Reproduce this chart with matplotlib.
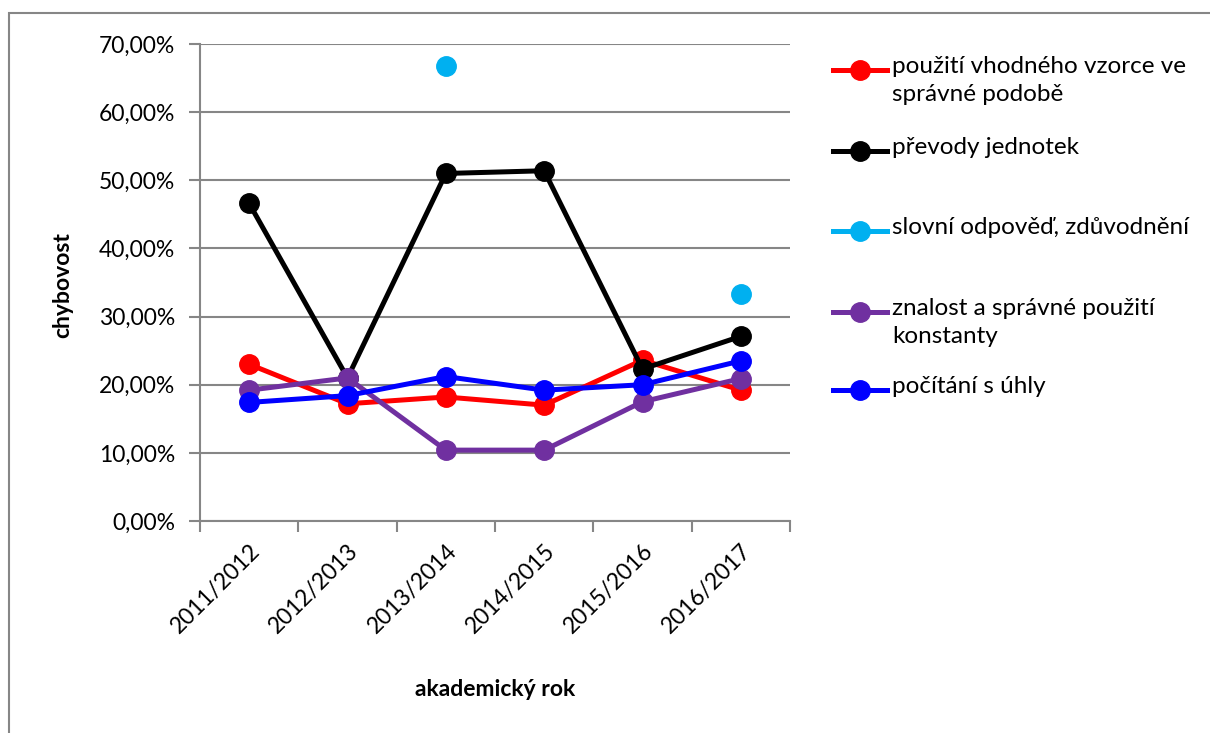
import numpy as np
import matplotlib.pyplot as plt
from matplotlib.lines import Line2D
from matplotlib.patches import Rectangle

plt.rcParams['font.family'] = ['Lato', 'DejaVu Sans']

years = ["2011/2012", "2012/2013", "2013/2014", "2014/2015", "2015/2016", "2016/2017"]

# chybovost v procentech
vzorec = [23.0, 17.2, 18.2, 17.0, 23.6, 19.2]
prevody = [46.6, 21.0, 51.0, 51.4, 22.3, 27.1]
slovni = [np.nan, np.nan, 66.8, np.nan, np.nan, 33.3]
konstanty = [19.2, 21.0, 10.4, 10.4, 17.5, 20.9]
uhly = [17.4, 18.4, 21.2, 19.2, 20.0, 23.5]

series = [
    ("použití vhodného vzorce ve\nsprávné podobě", vzorec, "#ff0000"),
    ("převody jednotek", prevody, "#000000"),
    ("slovní odpověď, zdůvodnění", slovni, "#00b0f0"),
    ("znalost a správné použití\nkonstanty", konstanty, "#7030a0"),
    ("počítání s úhly", uhly, "#0000ff"),
]

W, H = 1210, 733
fig = plt.figure(figsize=(W / 100, H / 100), dpi=100)
fig.patches.append(Rectangle((9 / W, -0.1), 1.2, 1 - 13 / H + 0.1, transform=fig.transFigure,
                             fill=False, edgecolor="#868686", linewidth=1.5))

ax = fig.add_axes([200 / W, 1 - 521 / H, 590 / W, 477 / H])
x = np.arange(len(years))
for name, vals, col in series:
    ax.plot(x, vals, color=col, linewidth=3.6, marker="o", markersize=14, zorder=3)

ax.set_xlim(-0.5, len(years) - 0.5)
ax.set_ylim(0, 70)
ax.set_yticks(np.arange(0, 71, 10))
ax.set_yticklabels(["%d,00%%" % v for v in range(0, 71, 10)], fontsize=16.5)
ax.grid(axis="y", color="#868686", linewidth=1.5)
ax.set_axisbelow(True)

ax.set_xticks(np.arange(-0.5, len(years), 1))
ax.set_xticklabels([])
ax.set_xticks(x, minor=True)
ax.set_xticklabels(years, minor=True, rotation=45, ha="right", va="top",
                   rotation_mode="anchor", fontsize=16.5)
ax.tick_params(axis="x", which="minor", length=0, pad=14)
ax.tick_params(axis="x", which="major", length=8, width=1.5, color="#868686")
ax.tick_params(axis="y", length=8, width=1.5, color="#868686", pad=10)

for s in ["top", "right"]:
    ax.spines[s].set_visible(False)
for s in ["left", "bottom"]:
    ax.spines[s].set_color("#868686")
    ax.spines[s].set_linewidth(1.5)

fig.text(495 / W, 1 - 690 / H, "akademický rok", ha="center", va="center",
         fontsize=16.5, fontweight="bold")
fig.text(63 / W, 1 - 285 / H, "chybovost", ha="center", va="center",
         rotation=90, fontsize=16.5, fontweight="bold")

# legenda vpravo
leg_y = [70, 151, 231, 312, 390]
for (name, vals, col), yy in zip(series, leg_y):
    yf = 1 - yy / H
    fig.add_artist(Line2D([833 / W, 887 / W], [yf, yf], color=col, linewidth=3.6,
                          transform=fig.transFigure))
    fig.add_artist(Line2D([860 / W], [yf], color=col, marker="o", markersize=14,
                          transform=fig.transFigure))
    fig.text(892 / W, yf + 14 / H, name, ha="left", va="top", fontsize=17.5,
             linespacing=1.4)

fig.savefig("out.png", dpi=100)
